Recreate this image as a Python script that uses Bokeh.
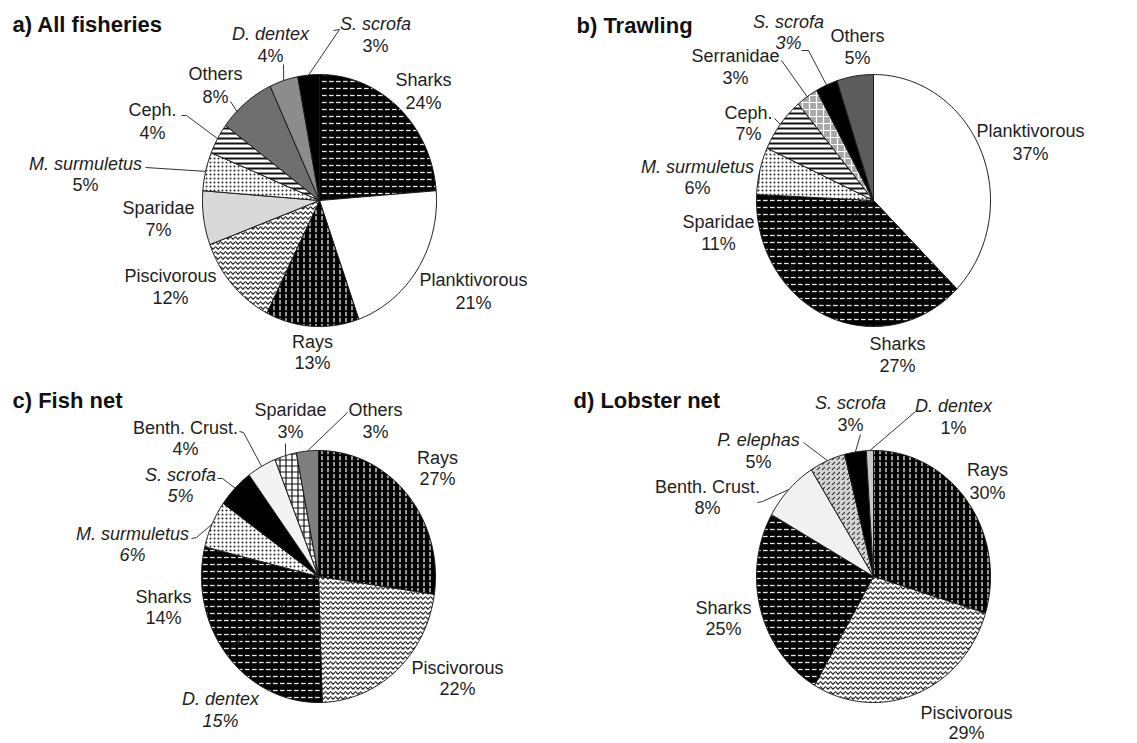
import math
from bokeh.plotting import figure
from bokeh.models import Range1d, ColumnDataSource
from bokeh.core.properties import value
from bokeh.embed import file_html
from bokeh.resources import INLINE

# ---------------- data (clockwise from 12 o'clock) ----------------
a_title = "a) All fisheries"
a_categories = ["Sharks", "Planktivorous", "Rays", "Piscivorous", "Sparidae",
                "M. surmuletus", "Ceph.", "Others", "D. dentex", "S. scrofa"]
a_values = [24, 21, 13, 12, 7, 5, 4, 8, 4, 3]

b_title = "b) Trawling"
b_categories = ["Planktivorous", "Sharks", "Sparidae", "M. surmuletus", "Ceph.",
                "Serranidae", "S. scrofa", "Others"]
b_values = [37, 27, 11, 6, 7, 3, 3, 5]

c_title = "c) Fish net"
c_categories = ["Rays", "Piscivorous", "D. dentex", "Sharks", "M. surmuletus",
                "S. scrofa", "Benth. Crust.", "Sparidae", "Others"]
c_values = [27, 22, 15, 14, 6, 5, 4, 3, 3]

d_title = "d) Lobster net"
d_categories = ["Rays", "Piscivorous", "Sharks", "Benth. Crust.", "P. elephas",
                "S. scrofa", "D. dentex"]
d_values = [30, 29, 25, 8, 5, 3, 1]

ITALIC_NAMES = {"M. surmuletus", "S. scrofa", "D. dentex", "P. elephas"}

# ---------------- styles ----------------
DASH_H = dict(fill_color="#000000", hatch_pattern="horizontal_dash", hatch_color="#e8e8e8", hatch_scale=7, hatch_weight=1.3)
DASH_V = dict(fill_color="#000000", hatch_pattern="vertical_dash", hatch_color="#e8e8e8", hatch_scale=6, hatch_weight=1.3)
WAVE = dict(fill_color="#ffffff", hatch_pattern="horizontal_wave", hatch_color="#222222", hatch_scale=5, hatch_weight=1.2)
DOTS = dict(fill_color="#ffffff", hatch_pattern="dot", hatch_color="#222222", hatch_scale=4, hatch_weight=1.0)
HLINE = dict(fill_color="#ffffff", hatch_pattern="horizontal_line", hatch_color="#111111", hatch_scale=5, hatch_weight=2.0)
def solid(c):
    return dict(fill_color=c, hatch_pattern=" ", hatch_color="#000000", hatch_scale=6, hatch_weight=1.0)

BASE_STYLE = {
    "Sharks": DASH_H, "Rays": DASH_V, "Planktivorous": solid("#ffffff"),
    "Piscivorous": WAVE, "Sparidae": solid("#d9d9d9"), "M. surmuletus": DOTS,
    "Ceph.": HLINE, "Others": solid("#6f6f6f"), "D. dentex": solid("#8c8c8c"),
    "S. scrofa": solid("#000000"), "Benth. Crust.": solid("#f1f1f1"),
    "Serranidae": dict(fill_color="#a8a8a8", hatch_pattern="cross", hatch_color="#ffffff", hatch_scale=7, hatch_weight=1.2),
    "P. elephas": dict(fill_color="#d4d4d4", hatch_pattern="right_diagonal_dash", hatch_color="#333333", hatch_scale=5, hatch_weight=1.1),
}
OVERRIDE = {
    ("b", "Sparidae"): DASH_H,
    ("b", "Others"): solid("#5c5c5c"),
    ("c", "D. dentex"): DASH_H,
    ("c", "Sparidae"): dict(fill_color="#ffffff", hatch_pattern="cross", hatch_color="#111111", hatch_scale=6, hatch_weight=1.2),
    ("c", "Others"): solid("#7f7f7f"),
    ("c", "Benth. Crust."): solid("#f3f3f3"),
    ("d", "D. dentex"): solid("#c8c8c8"),
}

# ---------------- layout (picture pixel coordinates) ----------------
RX, RY = 117, 126
LAYOUT = {
    "a": dict(cx=319, cy=200, title=(12, 24)),
    "b": dict(cx=873, cy=200, title=(576, 25)),
    "c": dict(cx=318, cy=576, title=(12, 400)),
    "d": dict(cx=873, cy=576, title=(573, 400)),
}
# label: x, y of name line, y of percent line, percent italic
LABELS = {
    "a": {"Sharks": (423, 79, 102, False), "Planktivorous": (473, 279, 302, False),
          "Rays": (312, 341, 362, False), "Piscivorous": (170, 275, 297, False),
          "Sparidae": (158, 207, 229, False), "M. surmuletus": (85, 163, 184, False),
          "Ceph.": (152, 109, 132, False), "Others": (215, 73, 96, False),
          "D. dentex": (270, 33, 55, False), "S. scrofa": (375, 23, 45, False)},
    "b": {"Planktivorous": (1030, 130, 153, False), "Sharks": (897, 343, 365, False),
          "Sparidae": (718, 221, 243, False), "M. surmuletus": (697, 166, 187, False),
          "Ceph.": (748, 112, 133, False), "Serranidae": (735, 55, 77, False),
          "S. scrofa": (788, 21, 42, True), "Others": (857, 35, 57, False)},
    "c": {"Rays": (437, 457, 478, False), "Piscivorous": (457, 667, 688, False),
          "D. dentex": (220, 698, 720, True), "Sharks": (163, 596, 617, False),
          "M. surmuletus": (132, 533, 554, True), "S. scrofa": (180, 474, 495, True),
          "Benth. Crust.": (185, 427, 448, False), "Sparidae": (290, 409, 431, False),
          "Others": (375, 409, 431, False)},
    "d": {"Rays": (987, 469, 492, False), "Piscivorous": (966, 712, 732, False),
          "Sharks": (723, 607, 628, False), "Benth. Crust.": (707, 486, 507, False),
          "P. elephas": (758, 439, 461, False), "S. scrofa": (850, 402, 424, False),
          "D. dentex": (953, 405, 427, False)},
}
# leaders: anchor points near label, position within slice for the end point
LEADERS = {
    "a": {"S. scrofa": ([(333, 30), (339, 29)], 0.5), "D. dentex": ([(283, 64)], 0.5),
          "Others": ([(230, 101)], 0.3), "Ceph.": ([(181, 115), (186, 115)], 0.5),
          "M. surmuletus": ([(145, 167)], 0.5)},
    "b": {"S. scrofa": ([(801, 50), (808, 50)], 0.5), "Serranidae": ([(781, 60)], 0.5),
          "Ceph.": ([(774, 118)], 0.5), "M. surmuletus": ([(758, 184)], 0.5)},
    "c": {"Others": ([(347, 412)], 0.5), "Sparidae": ([(285, 443)], 0.5),
          "Benth. Crust.": ([(239, 431), (243, 432)], 0.5),
          "S. scrofa": ([(217, 478), (222, 478)], 0.5),
          "M. surmuletus": ([(191, 538), (196, 537)], 0.5)},
    "d": {"S. scrofa": ([(860, 434)], 0.5), "D. dentex": ([(915, 411)], 0.5),
          "P. elephas": ([(803, 442)], 0.5), "Benth. Crust.": ([(757, 502), (762, 501)], 0.5)},
}

PANELS = [("a", a_title, a_categories, a_values), ("b", b_title, b_categories, b_values),
          ("c", c_title, c_categories, c_values), ("d", d_title, d_categories, d_values)]

W, H = 1137, 743
p = figure(width=W, height=H, output_backend="svg", toolbar_location=None,
           x_range=Range1d(0, W), y_range=Range1d(H, 0),
           min_border=0, outline_line_color=None, background_fill_color="white")
p.axis.visible = False
p.grid.visible = False

def edge(cx, cy, th, f=1.0):
    return cx + f * RX * math.sin(th), cy - f * RY * math.cos(th)

cols = {k: [] for k in ["xs", "ys", "fill_color", "hatch_pattern", "hatch_color", "hatch_scale", "hatch_weight"]}
lx, ly = [], []
txt = {False: dict(x=[], y=[], t=[]), True: dict(x=[], y=[], t=[])}

for key, title, cats, vals in PANELS:
    L = LAYOUT[key]
    cx, cy = L["cx"], L["cy"]
    total = float(sum(vals))
    acc = 0.0
    for cat, v in zip(cats, vals):
        a0 = 2 * math.pi * acc / total
        a1 = 2 * math.pi * (acc + v) / total
        acc += v
        n = max(3, int(math.degrees(a1 - a0)) + 2)
        xs, ys = [cx], [cy]
        for i in range(n):
            th = a0 + (a1 - a0) * i / (n - 1)
            ex, ey = edge(cx, cy, th)
            xs.append(ex); ys.append(ey)
        st = OVERRIDE.get((key, cat), BASE_STYLE[cat])
        cols["xs"].append(xs); cols["ys"].append(ys)
        for k in ["fill_color", "hatch_pattern", "hatch_color", "hatch_scale", "hatch_weight"]:
            cols[k].append(st[k])
        x, y1, y2, pit = LABELS[key][cat]
        it = cat in ITALIC_NAMES
        txt[it]["x"].append(x); txt[it]["y"].append(y1); txt[it]["t"].append(cat)
        txt[pit]["x"].append(x); txt[pit]["y"].append(y2); txt[pit]["t"].append(f"{v}%")
        if cat in LEADERS[key]:
            pts, t = LEADERS[key][cat]
            ex, ey = edge(cx, cy, a0 + (a1 - a0) * t, 1.0)
            lx.append([q[0] for q in pts] + [ex]); ly.append([q[1] for q in pts] + [ey])

p.patches(xs="xs", ys="ys", source=ColumnDataSource(cols), fill_color="fill_color",
          hatch_pattern="hatch_pattern", hatch_color="hatch_color", hatch_scale="hatch_scale",
          hatch_weight="hatch_weight", line_color="#1a1a1a", line_width=1)

p.multi_line(xs=lx, ys=ly, line_color="#333333", line_width=1)

for it, d in txt.items():
    p.text(x=d["x"], y=d["y"], text=d["t"], text_font=value("Liberation Sans"),
           text_font_size="18px", text_font_style="italic" if it else "normal",
           text_align="center", text_baseline="middle", text_color="#1e1e1e")

p.text(x=[LAYOUT[k]["title"][0] for k, *_ in PANELS], y=[LAYOUT[k]["title"][1] for k, *_ in PANELS],
       text=[t for _, t, *_ in PANELS], text_font=value("Liberation Sans"), text_font_size="22px",
       text_font_style="bold", text_align="left", text_baseline="middle", text_color="#111111")

open("out.html", "w").write(file_html(p, INLINE))
